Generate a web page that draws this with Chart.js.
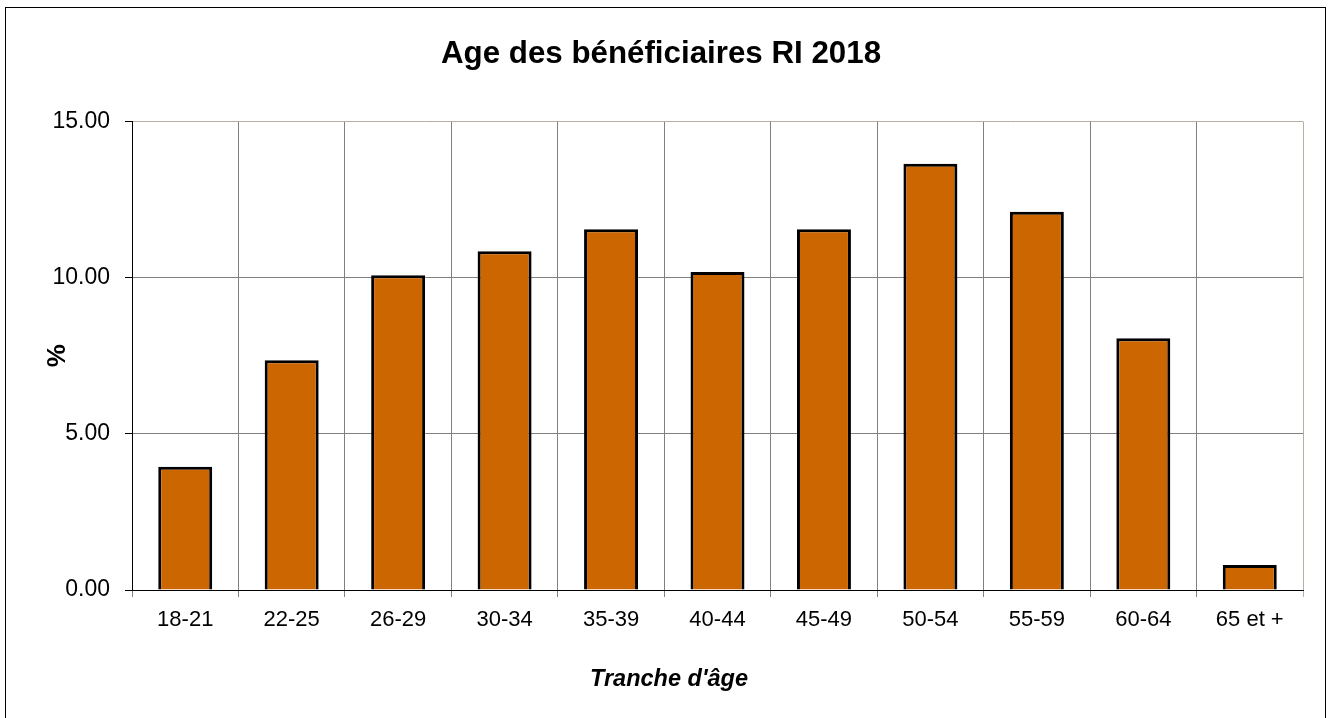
<!DOCTYPE html>
<html>
<head>
<meta charset="utf-8">
<script src="https://cdn.jsdelivr.net/npm/chart.js@4/dist/chart.umd.min.js"></script>
<style>
html,body{margin:0;padding:0;background:#fff;}
#wrap{width:1330px;height:718px;position:relative;}
</style>
</head>
<body>
<div id="wrap"><canvas id="c" width="1330" height="718"></canvas></div>
<script>
const categories = ["18-21","22-25","26-29","30-34","35-39","40-44","45-49","50-54","55-59","60-64","65 et +"];
const values = [3.95, 7.36, 10.08, 10.85, 11.55, 10.18, 11.55, 13.65, 12.11, 8.06, 0.80];
const titleText = "Age des bénéficiaires RI 2018";
const xTitle = "Tranche d'âge";
const yTitle = "%";

const FONT = "'Liberation Sans', Arial, sans-serif";

const bgAndFrame = {
  id: 'bgAndFrame',
  beforeDraw(chart) {
    const ctx = chart.ctx;
    ctx.save();
    ctx.fillStyle = '#fff';
    ctx.fillRect(0, 0, chart.width, chart.height);
    ctx.strokeStyle = '#000';
    ctx.lineWidth = 1;
    ctx.strokeRect(5.5, 7.5, 1320, 730);
    ctx.restore();
  },
  afterDraw(chart) {
    // x-axis title, centred on the chart width as in the reference
    const ctx = chart.ctx;
    ctx.save();
    ctx.fillStyle = '#000';
    ctx.font = "italic bold 23.5px " + FONT;
    ctx.textAlign = 'center';
    ctx.textBaseline = 'middle';
    ctx.fillText(xTitle, 669, 680);
    ctx.restore();
  }
};

new Chart(document.getElementById('c'), {
  type: 'bar',
  data: {
    labels: categories,
    datasets: [{
      data: values,
      backgroundColor: '#CC6600',
      borderColor: '#000',
      borderWidth: 3,
      barPercentage: 0.507,
      categoryPercentage: 1
    }]
  },
  options: {
    responsive: false,
    animation: false,
    devicePixelRatio: 1,
    layout: { padding: { left: 19, right: 27, top: 0, bottom: 0 } },
    plugins: {
      legend: { display: false },
      tooltip: { enabled: false },
      title: {
        display: true,
        text: titleText,
        color: '#000',
        font: { family: FONT, size: 31.3, weight: 'bold' },
        padding: { top: 36, bottom: 48 }
      }
    },
    scales: {
      x: {
        grid: {
          offset: true,
          color: (c) => c.type === 'scale' ? '#b8aea2' : '#808080',
          tickColor: (c) => c.type === 'scale' ? '#b8aea2' : '#808080',
          tickLength: 7,
          lineWidth: 1
        },
        border: { color: '#000', width: 1 },
        ticks: {
          color: '#000',
          font: { family: FONT, size: 22 },
          padding: 10,
          maxRotation: 0,
          autoSkip: false
        },
        title: { display: false },
        afterFit: (s) => { s.height = 128; }
      },
      y: {
        min: 0,
        max: 15,
        grid: {
          color: (c) => (c.tick && c.tick.value === 15) ? '#b8aea2' : '#808080',
          tickColor: '#000',
          tickLength: 7,
          lineWidth: 1
        },
        border: { color: '#000', width: 1 },
        ticks: {
          stepSize: 5,
          color: '#000',
          font: { family: FONT, size: 23 },
          padding: 15,
          callback: (v) => Number(v).toFixed(2)
        },
        title: {
          display: true,
          text: yTitle,
          color: '#000',
          font: { family: FONT, size: 26, weight: 'bold' },
          padding: { top: 23, bottom: 0 }
        },
        afterFit: (s) => { s.width = 113; }
      }
    }
  },
  plugins: [bgAndFrame]
});
</script>
</body>
</html>
